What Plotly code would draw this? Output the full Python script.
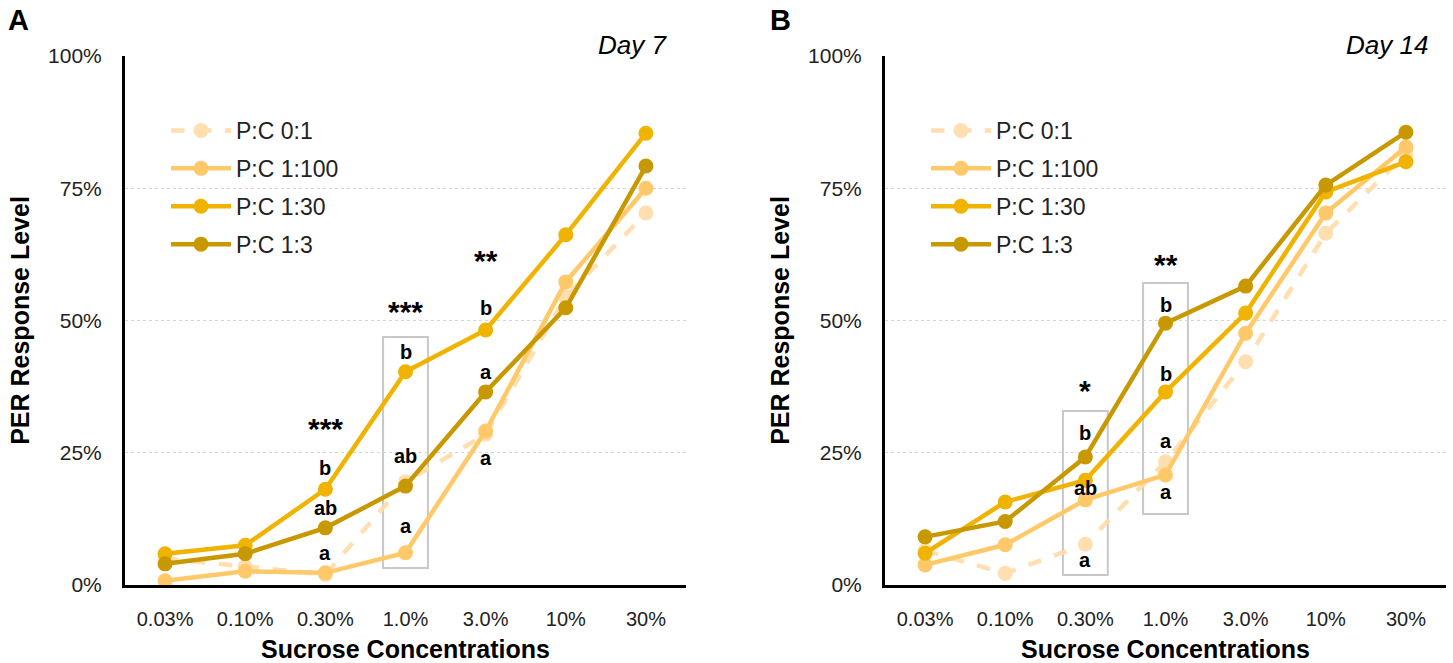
import plotly.graph_objects as go

W, H = 1453, 663

categories = ["0.03%", "0.10%", "0.30%", "1.0%", "3.0%", "10%", "30%"]
series_names = ["P:C 0:1", "P:C 1:100", "P:C 1:30", "P:C 1:3"]

# Day 7 (panel A), values in %
day7_pc01 = [5.0, 3.5, 2.0, 19.5, 28.5, 54.5, 70.3]
day7_pc1100 = [0.8, 2.6, 2.3, 6.1, 29.1, 57.3, 75.0]
day7_pc130 = [5.9, 7.5, 18.1, 40.3, 48.2, 66.2, 85.4]
day7_pc13 = [4.0, 5.9, 10.8, 18.7, 36.5, 52.4, 79.2]

# Day 14 (panel B), values in %
day14_pc01 = [6.5, 2.2, 7.7, 23.3, 42.2, 66.5, 81.5]
day14_pc1100 = [3.8, 7.6, 16.1, 20.8, 47.6, 70.3, 82.8]
day14_pc130 = [6.0, 15.7, 19.8, 36.5, 51.4, 74.3, 80.0]
day14_pc13 = [9.1, 12.0, 24.2, 49.5, 56.5, 75.6, 85.6]

y_ticks = [0, 25, 50, 75, 100]
y_ticklabels = ["0%", "25%", "50%", "75%", "100%"]

# significance / letter labels: (category, value, text)
day7_labels = [
    ("0.30%", 29.9, "***"), ("0.30%", 22.1, "b"), ("0.30%", 14.6, "ab"), ("0.30%", 6.0, "a"),
    ("1.0%", 52.0, "***"), ("1.0%", 44.0, "b"), ("1.0%", 24.4, "ab"), ("1.0%", 11.2, "a"),
    ("3.0%", 61.8, "**"), ("3.0%", 52.4, "b"), ("3.0%", 40.3, "a"), ("3.0%", 24.0, "a"),
]
day14_labels = [
    ("0.30%", 37.2, "*"), ("0.30%", 28.7, "b"), ("0.30%", 18.3, "ab"), ("0.30%", 4.7, "a"),
    ("1.0%", 61.0, "**"), ("1.0%", 52.9, "b"), ("1.0%", 39.9, "b"), ("1.0%", 27.2, "a"), ("1.0%", 17.6, "a"),
]
# highlight boxes: (category, y_low, y_high)
day7_boxes = [("1.0%", 3.2, 46.9)]
day14_boxes = [("0.30%", 1.9, 32.9), ("1.0%", 13.4, 57.1)]

colors = ["#FFDCA8", "#FFC96A", "#EFB300", "#C89800"]
dashes = ["dash", "solid", "solid", "solid"]
FONT = "Liberation Sans, Arial, sans-serif"

fig = go.Figure()

panels = [
    ("x", "y", "legend", [day7_pc01, day7_pc1100, day7_pc130, day7_pc13]),
    ("x2", "y2", "legend2", [day14_pc01, day14_pc1100, day14_pc130, day14_pc13]),
]
for xa, ya, lg, data in panels:
    for i, (name, vals) in enumerate(zip(series_names, data)):
        fig.add_trace(go.Scatter(
            x=categories, y=vals, name=name, mode="lines+markers",
            xaxis=xa, yaxis=ya, legend=lg, legendgroup=f"{lg}{i}",
            line=dict(color=colors[i], width=4.5, dash=dashes[i]),
            marker=dict(color=colors[i], size=15),
            opacity=0.9 if i == 0 else 1.0,
        ))

def px_x(p):
    return p / W

def px_y(p):
    return 1 - p / H

xdomA = [px_x(125), px_x(686)]
xdomB = [px_x(885), px_x(1446)]
ydom = [px_y(585), px_y(56)]

axis_common = dict(showline=True, linecolor="black", linewidth=3, zeroline=False, automargin=False)
xcommon = dict(axis_common, type="category", categoryorder="array", categoryarray=categories,
               range=[-0.5, 6.5], showgrid=False, ticks="",
               tickfont=dict(family=FONT, size=20, color="#222"),
               ticklabelstandoff=14,
               title=dict(text="<b>Sucrose Concentrations</b>",
                          font=dict(family=FONT, size=25, color="black"),
                          standoff=16))
ycommon = dict(axis_common, range=[0, 100], tickvals=y_ticks, ticktext=y_ticklabels,
               showgrid=True, gridcolor="#d6d6d6", griddash="dot", gridwidth=1, ticks="",
               tickfont=dict(family=FONT, size=21, color="#222"),
               ticklabelstandoff=16,
               title=dict(text="<b>PER Response Level</b>",
                          font=dict(family=FONT, size=25, color="black"),
                          standoff=12))

legend_common = dict(xanchor="left", yanchor="top",
                     font=dict(family=FONT, size=23, color="#222"),
                     tracegroupgap=5, bgcolor="rgba(0,0,0,0)", itemwidth=60)

fig.update_layout(
    width=W, height=H, margin=dict(l=0, r=0, t=0, b=0),
    paper_bgcolor="white", plot_bgcolor="white",
    xaxis=dict(xcommon, domain=xdomA, anchor="y"),
    yaxis=dict(ycommon, domain=ydom, anchor="x"),
    xaxis2=dict(xcommon, domain=xdomB, anchor="y2"),
    yaxis2=dict(ycommon, domain=ydom, anchor="x2"),
    legend=dict(legend_common, x=px_x(166), y=px_y(109)),
    legend2=dict(legend_common, x=px_x(926), y=px_y(109)),
    showlegend=True,
)

annos = []
for xa, ya, labels in [("x", "y", day7_labels), ("x2", "y2", day14_labels)]:
    for cat, v, t in labels:
        size = 30 if "*" in t else 20
        annos.append(dict(x=cat, y=v, xref=xa, yref=ya, text=f"<b>{t}</b>", showarrow=False,
                          yshift=-2 if "*" in t else 0,
                          font=dict(family=FONT, size=size, color="black")))
annos.append(dict(x=px_x(6), y=px_y(2), xref="paper", yref="paper", text="<b>A</b>",
                  showarrow=False, xanchor="left", yanchor="top",
                  font=dict(family=FONT, size=29, color="black")))
annos.append(dict(x=px_x(768), y=px_y(2), xref="paper", yref="paper", text="<b>B</b>",
                  showarrow=False, xanchor="left", yanchor="top",
                  font=dict(family=FONT, size=29, color="black")))
annos.append(dict(x=px_x(669), y=px_y(45), xref="paper", yref="paper", text="<i>Day 7</i>",
                  showarrow=False, xanchor="right", yanchor="middle",
                  font=dict(family=FONT, size=26, color="black")))
annos.append(dict(x=px_x(1430), y=px_y(45), xref="paper", yref="paper", text="<i>Day 14</i>",
                  showarrow=False, xanchor="right", yanchor="middle",
                  font=dict(family=FONT, size=26, color="black")))
fig.update_layout(annotations=annos)

shapes = []
for xa, ya, boxes in [("x", "y", day7_boxes), ("x2", "y2", day14_boxes)]:
    for cat, lo, hi in boxes:
        idx = categories.index(cat)
        shapes.append(dict(type="rect", xref=xa, yref=ya, x0=idx - 0.28, x1=idx + 0.28,
                           y0=lo, y1=hi, line=dict(color="#c8c8c8", width=2),
                           fillcolor="rgba(0,0,0,0)", layer="below"))
fig.update_layout(shapes=shapes)

fig.write_html("out.html")
